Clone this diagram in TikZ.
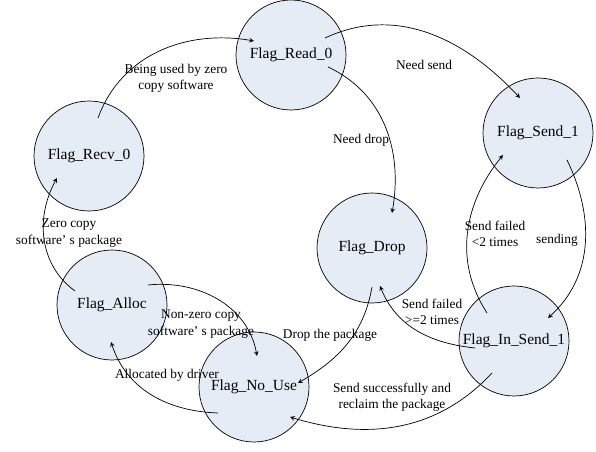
\documentclass[tikz,border=0pt]{standalone}
\usepackage{fontspec}
\setmainfont{Liberation Serif}
\definecolor{flagfill}{RGB}{230,236,246}
\tikzset{
  flagstate/.style={circle,draw,fill=flagfill,minimum size=2.75cm,inner sep=0pt,font=\fontsize{11}{13}\selectfont},
  lbl/.style={align=center,inner sep=0pt,font=\fontsize{9.5}{11.5}\selectfont}
}
\begin{document}
\begin{tikzpicture}[>=stealth,line width=0.5pt]
	\useasboundingbox (0,0) rectangle (14.9,11.3);
	% states
	\node[flagstate] (read) at (7.275,9.925) {Flag\_Read\_0};
	\node[flagstate] (send) at (13.45,7.975) {Flag\_Send\_1};
	\node[flagstate] (recv) at (2.225,7.4) {Flag\_Recv\_0};
	\node[flagstate] (drop) at (9.3,5.1) {Flag\_Drop};
	\node[flagstate] (insend) at (12.85,2.775) {Flag\_In\_Send\_1};
	\node[flagstate] (alloc) at (2.8,3.675) {Flag\_Alloc};
	\node[flagstate] (nouse) at (6.35,1.625) {Flag\_No\_Use};
	% transitions
	\draw[->] ([shift={(0.225,0.95)}]recv.center) to[out=70,in=170] ([shift={(-0.925,0.35)}]read.center);
	\draw[->] ([shift={(0.85,0.425)}]read.center) to[out=25,in=133] ([shift={(-0.45,0.875)}]send.center);
	\draw[->] ([shift={(0.925,-0.3)}]read.center) to[out=-25,in=80] ([shift={(0.5,0.875)}]drop.center);
	\draw[->] ([shift={(0.725,-0.675)}]send.center) to[out=-64,in=42] ([shift={(0.85,0.575)}]insend.center);
	\draw[->] ([shift={(-0.675,0.7)}]insend.center) to[out=123,in=-129] ([shift={(-0.875,-0.55)}]send.center);
	\draw[->] ([shift={(-0.975,-0.175)}]insend.center) to[out=174,in=-68] ([shift={(0.2,-0.95)}]drop.center);
	\draw[->] ([shift={(0,-0.975)}]drop.center) to[out=-100,in=30] ([shift={(1.1,0.1)}]nouse.center);
	\draw[->] ([shift={(-0.55,-0.8)}]insend.center) to[out=-133,in=-17] ([shift={(0.9,-0.75)}]nouse.center);
	\draw[->] ([shift={(-0.9,-0.65)}]nouse.center) to[out=178,in=-72] ([shift={(-0.025,-0.925)}]alloc.center);
	\draw[->] ([shift={(0.9,0.5)}]alloc.center) to[out=6,in=100] ([shift={(0.075,0.775)}]nouse.center);
	\draw[->] ([shift={(-0.925,0.35)}]alloc.center) to[out=144,in=-119] ([shift={(-0.8,-0.55)}]recv.center);
	% labels
	\node[lbl] (usedlbl) at (4.4,9.35) {Being used by zero\\copy software};
	\node[lbl] (sendlbl) at (10.6,9.675) {Need send};
	\node[lbl] (droplbl) at (9.025,7.8) {Need drop};
	\node[lbl] (sendinglbl) at (13.925,5.3) {sending};
	\node[lbl] (faillbl) at (12.375,5.45) {Send failed\\<2 times};
	\node[lbl] (failtwolbl) at (10.8,3.5) {Send failed\\>=2 times};
	\node[lbl] (pkglbl) at (8.25,2.925) {Drop the package};
	\node[lbl] (okLbl) at (9.8,1.375) {Send successfully and\\reclaim the package};
	\node[lbl] (drvlbl) at (4.175,1.925) {Allocated by driver};
	\node[lbl] (nzlbl) at (5.025,3.2) {Non-zero copy\\software’ s package};
	\node[lbl] (zlbl) at (1.725,5.475) {Zero copy\\software’ s package};
\end{tikzpicture}
\end{document}
